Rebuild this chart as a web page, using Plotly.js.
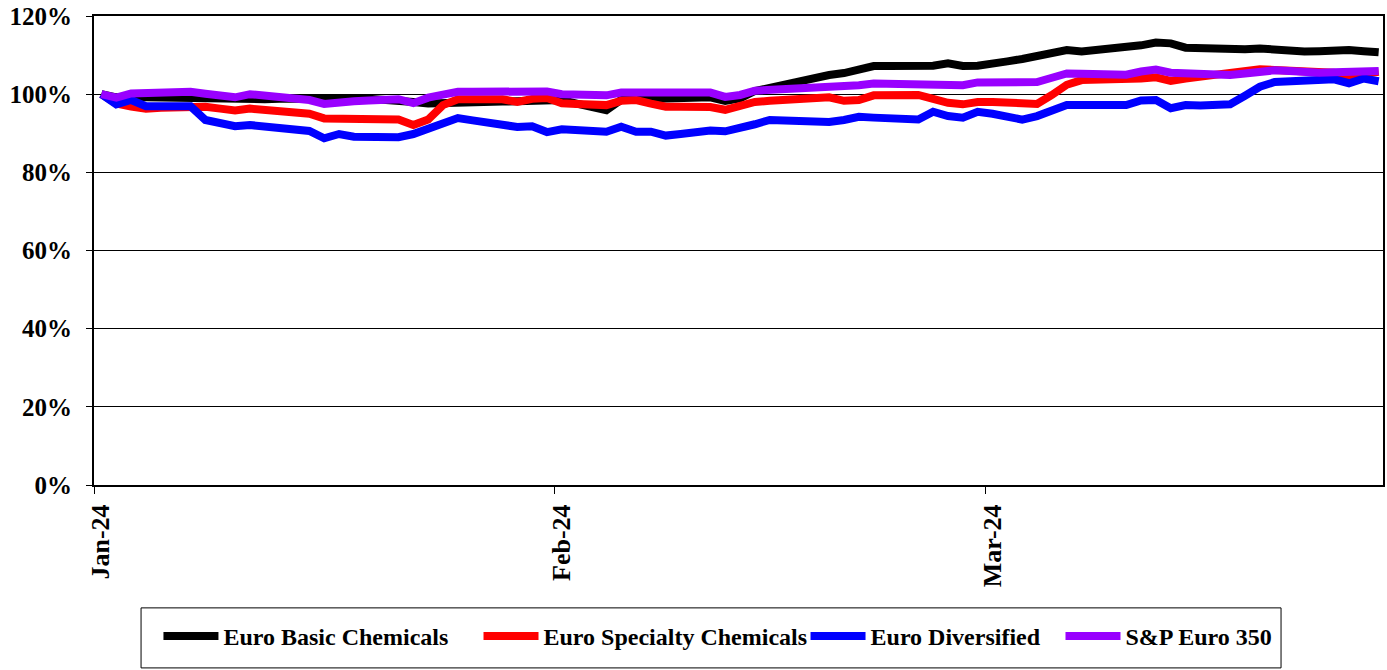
<!DOCTYPE html>
<html>
<head>
<meta charset="utf-8">
<script src="https://cdn.plot.ly/plotly-3.0.1.min.js"></script>
<style>html,body{margin:0;padding:0;background:#fff}#chart{width:1387px;height:670px}</style>
</head>
<body>
<div id="chart"></div>
<script>
// Daily observations from 2024-01-01 (87 days)
const startDate = '2024-01-01';
const nDays = 87;
const seriesNames = ['Euro Basic Chemicals', 'Euro Specialty Chemicals', 'Euro Diversified', 'S&P Euro 350'];
const seriesColors = ['#000000', '#FF0000', '#0000FF', '#9900FF'];

const euroBasic = [100,99.2,99.3,99.2,99.2,99.1,99.0,98.6,98.5,98.5,98.6,98.7,98.8,98.9,99.0,99.1,99.0,98.9,98.8,98.7,98.6,98.0,97.6,97.6,97.8,97.9,98.0,98.1,98.2,98.3,98.8,
  98.5,97.6,96.7,95.9,98.6,98.7,98.8,98.9,99.0,99.2,99.2,98.3,98.9,100.8,101.7,102.5,103.3,104.1,104.9,105.4,106.4,107.2,107.2,107.2,107.2,107.3,107.9,107.2,107.3,
  107.6,108.4,109.0,109.8,110.5,111.3,110.9,111.2,111.5,111.8,112.5,113.2,113.0,111.9,111.7,111.5,111.3,111.5,111.7,111.3,110.8,110.9,111.0,111.2,111.3,111.0,110.7];

const euroSpecialty = [100,97.6,96.8,96.3,96.5,96.6,96.8,96.8,96.3,95.8,96.3,96.0,95.7,95.4,95.0,93.8,93.7,93.7,93.6,93.6,93.5,92.1,93.5,97.2,98.7,98.7,98.7,98.7,98.0,98.8,99.0,
  97.7,97.5,97.4,97.2,98.3,98.5,97.6,96.8,96.8,96.9,96.7,96.0,97.1,98.0,98.3,98.6,98.8,99.1,99.2,98.3,98.5,99.7,99.8,99.8,99.8,98.8,97.8,97.4,98.0,
  98.0,97.8,97.6,97.5,99.8,102.4,103.6,103.6,103.6,103.6,104.0,104.3,103.4,104.0,104.4,104.9,105.3,105.9,106.4,106.2,106.0,105.8,105.7,105.5,104.7,105.2,105.7];

const euroDiversified = [100,97.4,98.5,96.9,96.9,96.9,96.9,93.4,92.5,91.8,92.1,91.8,91.4,91.1,90.6,88.7,89.8,89.1,89.0,89.0,89.0,89.8,91.1,92.4,93.9,93.3,92.7,92.2,91.6,91.8,90.3,
  91.0,90.8,90.6,90.4,91.7,90.4,90.4,89.4,89.8,90.4,90.7,90.5,91.2,92.3,93.4,93.3,93.2,93.0,92.9,93.4,94.2,94.0,93.9,93.7,93.5,95.5,94.4,94.0,95.5,
  95.0,94.3,93.5,94.4,95.8,97.2,97.2,97.2,97.2,97.2,98.4,98.5,96.4,97.2,97.1,97.0,97.4,99.6,101.9,103.1,103.3,103.4,103.6,103.8,102.8,104.0,103.3];

const spEuro350 = [100,99.1,100.2,100.3,100.4,100.5,100.6,100.1,99.9,99.2,100.0,99.6,99.3,98.9,98.5,97.5,98.0,98.2,98.4,98.5,98.7,97.7,99.1,99.9,100.6,100.6,100.6,100.6,100.9,101.0,100.7,
  100.0,99.9,99.8,99.7,100.4,100.4,100.5,100.5,100.5,100.6,100.4,99.3,99.8,100.9,101.1,101.2,101.4,101.5,101.6,101.7,102.3,102.7,102.7,102.7,102.7,102.7,102.5,102.3,103.0,
  103.1,103.1,103.1,103.1,104.2,105.3,105.2,105.1,105.0,105.0,105.8,106.3,105.5,105.3,105.2,105.0,104.9,105.3,105.7,106.1,105.9,105.6,105.5,105.6,105.7,105.8,105.9];

const xTickVals = ['2024-01-01', '2024-02-01', '2024-03-01'];
const xTickText = ['Jan-24', 'Feb-24', 'Mar-24'];

// build dates (plotted at mid-day, as in a date axis with points between tick marks)
const dates = [];
const d0 = new Date(startDate + 'T12:00:00Z');
for (let i = 0; i < nDays; i++) {
  const d = new Date(d0.getTime() + i * 86400000);
  dates.push(d.toISOString().slice(0, 10) + ' 12:00');
}

const allSeries = [euroBasic, euroSpecialty, euroDiversified, spEuro350];
const legendIds = ['legend', 'legend2', 'legend3', 'legend4'];
const legendX = [0.05, 0.2983, 0.552, 0.7498];
const font = {family: 'Liberation Serif, Times New Roman, serif', color: '#000', weight: 'bold'};

const traces = allSeries.map((vals, i) => ({
  x: dates, y: vals, name: seriesNames[i], type: 'scatter', mode: 'lines',
  line: {color: seriesColors[i], width: 8, shape: 'linear'},
  legend: legendIds[i], hoverinfo: 'skip'
}));

const layout = {
  width: 1387, height: 670,
  margin: {l: 94, r: 4, t: 16, b: 185, pad: 0},
  paper_bgcolor: '#fff', plot_bgcolor: '#fff',
  showlegend: true,
  xaxis: {
    type: 'date', range: ['2024-01-01', '2024-03-27 19:00'],
    tickmode: 'array', tickvals: xTickVals, ticktext: xTickText,
    tickangle: -90, ticks: 'outside', ticklen: 7, tickwidth: 1, tickcolor: '#000',
    tickfont: Object.assign({size: 26}, font), ticklabelshift: 7,
    showline: true, linecolor: '#000', linewidth: 2, mirror: true,
    showgrid: false, zeroline: false, fixedrange: true
  },
  yaxis: {
    range: [0, 120], tickmode: 'linear', tick0: 0, dtick: 20, ticksuffix: '%',
    ticks: 'outside', ticklen: 6, tickwidth: 1, tickcolor: '#000',
    tickfont: Object.assign({size: 25}, font), ticklabelstandoff: 9,
    showline: true, linecolor: '#000', linewidth: 2, mirror: true,
    showgrid: true, gridcolor: '#000', gridwidth: 1, zeroline: false, fixedrange: true
  },
  shapes: [{
    type: 'rect', xref: 'paper', yref: 'paper',
    x0: 0.0365, x1: 0.9209, y0: -0.390, y1: -0.262,
    line: {color: '#000', width: 1}, fillcolor: 'rgba(0,0,0,0)'
  }]
};

legendIds.forEach((id, i) => {
  layout[id] = {
    orientation: 'h', x: legendX[i], xanchor: 'left', y: -0.275, yanchor: 'top',
    font: Object.assign({size: 24}, font),
    bgcolor: 'rgba(0,0,0,0)', borderwidth: 0, itemwidth: 55
  };
});

Plotly.newPlot('chart', traces, layout, {displayModeBar: false, staticPlot: true});
</script>
</body>
</html>
